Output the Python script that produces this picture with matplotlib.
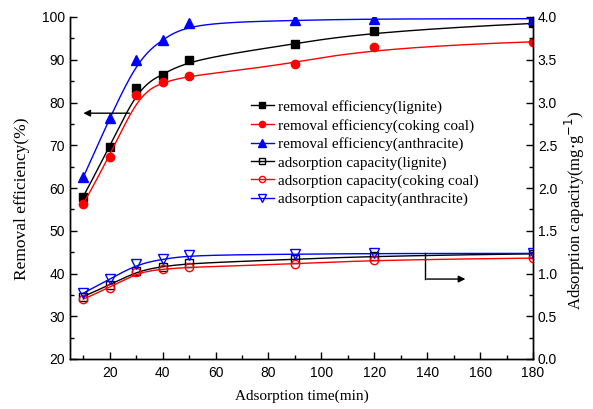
import numpy as np
import matplotlib
matplotlib.use("Agg")
import matplotlib.pyplot as plt
from matplotlib.ticker import MultipleLocator
from matplotlib.lines import Line2D

time = [10, 20, 30, 40, 50, 90, 120, 180]
eff_lignite = [58.0, 69.5, 83.5, 86.5, 90.0, 93.7, 96.7, 98.5]
eff_coking = [56.3, 67.2, 81.8, 84.7, 86.3, 89.0, 92.9, 94.2]
eff_anthracite = [62.5, 76.3, 90.0, 94.7, 98.6, 99.2, 99.6, 99.6]
cap_lignite = [0.73, 0.865, 1.03, 1.08, 1.12, 1.165, 1.205, 1.23]
cap_coking = [0.70, 0.835, 1.015, 1.05, 1.075, 1.11, 1.16, 1.18]
cap_anthracite = [0.77, 0.935, 1.11, 1.165, 1.215, 1.225, 1.235, 1.235]

labels = ["removal efficiency(lignite)", "removal efficiency(coking coal)",
          "removal efficiency(anthracite)", "adsorption capacity(lignite)",
          "adsorption capacity(coking coal)", "adsorption capacity(anthracite)"]


def bspline(px, py, num=400, k=3):
    """Clamped cubic B-spline using the data points as control points."""
    P = np.column_stack([px, py]).astype(float)
    n = len(P)
    inner = np.arange(1, n - k)
    knots = np.concatenate([np.zeros(k + 1), inner, np.full(k + 1, n - k)]).astype(float)
    ts = np.linspace(0, n - k, num)
    ts[-1] -= 1e-9

    def N(i, p, t):
        if p == 0:
            return np.where((knots[i] <= t) & (t < knots[i + 1]), 1.0, 0.0)
        out = np.zeros_like(t)
        d1 = knots[i + p] - knots[i]
        d2 = knots[i + p + 1] - knots[i + 1]
        if d1 > 0:
            out += (t - knots[i]) / d1 * N(i, p - 1, t)
        if d2 > 0:
            out += (knots[i + p + 1] - t) / d2 * N(i + 1, p - 1, t)
        return out

    B = np.array([N(i, k, ts) for i in range(n)])
    C = B.T @ P
    return C[:, 0], C[:, 1]


fig = plt.figure(figsize=(5.93, 4.09), dpi=100)
ax = fig.add_axes([70 / 593, 1 - 359 / 409, 463 / 593, 342 / 409])
ax2 = ax.twinx()

serif = "Liberation Serif"
handles = []
specs = [
    (ax, eff_lignite, "black", "s", "black", 5.5),
    (ax, eff_coking, "red", "o", "red", 6.0),
    (ax, eff_anthracite, "blue", "^", "blue", 7.0),
    (ax2, cap_lignite, "black", "s", "none", 5.5),
    (ax2, cap_coking, "red", "o", "none", 6.0),
    (ax2, cap_anthracite, "blue", "v", "none", 7.0),
]
for (a, ys, c, mk, fc, ms), lab in zip(specs, labels):
    cx, cy = bspline(time, ys)
    a.plot(cx, cy, color=c, lw=1.0)
    a.plot(time, ys, linestyle="none", marker=mk, color=c, mfc=fc, mec=c, ms=ms, mew=1.0)
    handles.append(Line2D([], [], color=c, marker=mk, mfc=fc, mec=c, ms=ms * 0.75,
                          mew=1.0, lw=1.0, label=lab))

ax.set_xlim(5, 180)
ax.set_ylim(20, 100)
ax2.set_ylim(0, 4.0)
ax.xaxis.set_major_locator(MultipleLocator(20))
ax.xaxis.set_minor_locator(MultipleLocator(10))
ax.yaxis.set_major_locator(MultipleLocator(10))
ax.yaxis.set_minor_locator(MultipleLocator(5))
ax2.yaxis.set_major_locator(MultipleLocator(0.5))
ax2.yaxis.set_minor_locator(MultipleLocator(0.25))
ax2.yaxis.set_major_formatter(plt.FormatStrFormatter("%.1f"))

for a in (ax, ax2):
    a.spines["top"].set_visible(False)
    a.tick_params(which="both", direction="in", labelsize=10, width=1.0)
    a.tick_params(which="major", length=5)
    a.tick_params(which="minor", length=3)
    for lbl in a.get_xticklabels() + a.get_yticklabels():
        lbl.set_fontfamily("Liberation Sans")
ax.tick_params(axis="x", pad=5)
for s in ("left", "bottom", "right"):
    ax.spines[s].set_linewidth(1.0)
    ax2.spines[s].set_linewidth(1.0)

ax.set_xlabel("Adsorption time(min)", fontfamily=serif, fontsize=11, labelpad=7)
ax.set_ylabel("Removal efficiency(%)", fontfamily=serif, fontsize=12.5)
ax2.set_ylabel("Adsorption capacity(mg$\\cdot$g$^{-1}$)", fontfamily=serif, fontsize=12)
ax.yaxis.set_label_coords(-0.087, 0.468)
ax2.yaxis.set_label_coords(1.064, 0.436)

# arrows
ax.annotate("", xy=(9, 77.5), xytext=(28.5, 77.5),
            arrowprops=dict(arrowstyle="-|>", color="black", lw=1.0, mutation_scale=10))
ax2.plot([139, 139], [1.24, 0.935], color="black", lw=1.0)
ax2.annotate("", xy=(155.5, 0.935), xytext=(138.8, 0.935),
             arrowprops=dict(arrowstyle="-|>", color="black", lw=1.0, mutation_scale=10))

leg = ax2.legend(handles=handles, loc="upper left", bbox_to_anchor=(0.377, 0.775),
                 frameon=False, prop={"family": serif, "size": 11},
                 handlelength=1.5, handletextpad=0.3, labelspacing=0.3, borderaxespad=0)

fig.savefig("out.png", dpi=100)
